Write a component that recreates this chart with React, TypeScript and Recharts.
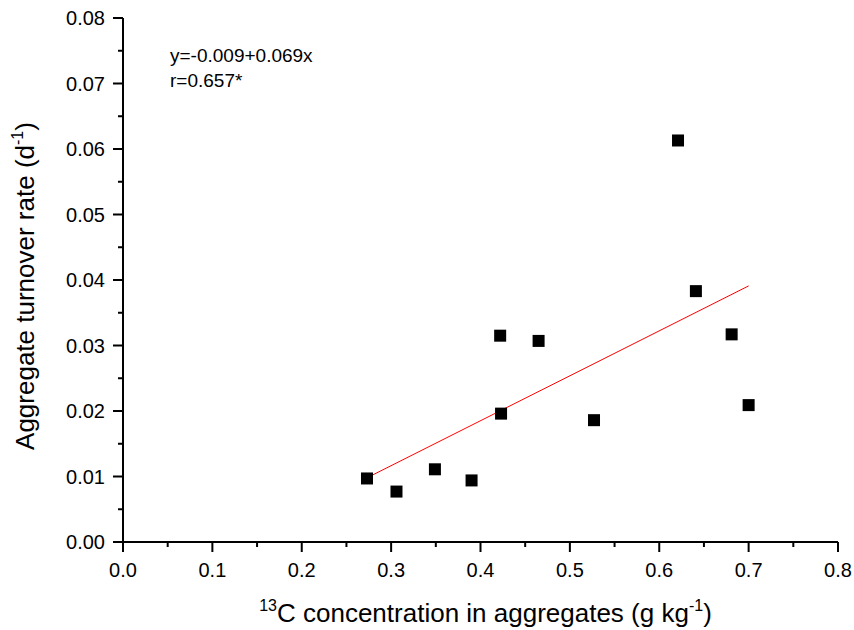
import { ScatterChart, Scatter, XAxis, YAxis, Label, Customized } from 'recharts';

// 13C concentration in aggregates (g kg-1)
const concentration = [0.273, 0.306, 0.349, 0.390, 0.423, 0.422, 0.465, 0.527, 0.621, 0.641, 0.681, 0.700];
// aggregate turnover rate (d-1)
const turnoverRate = [0.0097, 0.0077, 0.0111, 0.0094, 0.0196, 0.0315, 0.0307, 0.0186, 0.0613, 0.0383, 0.0317, 0.0209];

// end points of the fitted line y=-0.009+0.069x
const fitX = [0.273, 0.7];
const fitY = [0.0098, 0.0391];

const xTicks = [0, 0.05, 0.1, 0.15, 0.2, 0.25, 0.3, 0.35, 0.4, 0.45, 0.5, 0.55, 0.6, 0.65, 0.7, 0.75, 0.8];
const yTicks = [0, 0.005, 0.01, 0.015, 0.02, 0.025, 0.03, 0.035, 0.04, 0.045, 0.05, 0.055, 0.06, 0.065, 0.07, 0.075, 0.08];

const equationText = 'y=-0.009+0.069x';
const correlationText = 'r=0.657*';

const FONT = '"Liberation Sans", Arial, sans-serif';

const points = concentration.map((x, i) => ({ x, y: turnoverRate[i] }));
const fitLine = fitX.map((x, i) => ({ x, y: fitY[i] }));

const isMajor = (v: number, step: number) => Math.abs(v / step - Math.round(v / step)) < 1e-6;

const XTick = (props: any) => {
  const { x, y, payload } = props;
  const major = isMajor(payload.value, 0.1);
  return (
    <g>
      <line x1={x} x2={x} y1={y} y2={y + (major ? 10 : 5)} stroke="#000" strokeWidth={2} />
      {major && (
        <text x={x} y={y + 35} textAnchor="middle" fontSize={20} fontFamily={FONT} fill="#000">
          {payload.value.toFixed(1)}
        </text>
      )}
    </g>
  );
};

const YTick = (props: any) => {
  const { x, y, payload } = props;
  const major = isMajor(payload.value, 0.01);
  return (
    <g>
      <line x1={x - (major ? 10 : 5)} x2={x} y1={y} y2={y} stroke="#000" strokeWidth={2} />
      {major && (
        <text x={x - 18} y={y + 7} textAnchor="end" fontSize={20} fontFamily={FONT} fill="#000">
          {payload.value.toFixed(2)}
        </text>
      )}
    </g>
  );
};

const SquareDot = (props: any) => {
  const { cx, cy } = props;
  return <rect x={cx - 6} y={cy - 6} width={12} height={12} fill="#000" />;
};

const NoDot = () => <g />;

const XTitle = (props: any) => {
  const { viewBox } = props;
  const cx = viewBox.x + viewBox.width / 2 + 5;
  return (
    <text x={cx} y={622} textAnchor="middle" fontSize={26} fontFamily={FONT} fill="#000">
      <tspan fontSize={16} dy={-11}>13</tspan>
      <tspan dy={11}>C concentration in aggregates (g kg</tspan>
      <tspan fontSize={16} dy={-11}>-1</tspan>
      <tspan dy={11}>)</tspan>
    </text>
  );
};

const YTitle = (props: any) => {
  const { viewBox } = props;
  const cy = viewBox.y + viewBox.height / 2 + 6;
  return (
    <text
      x={0}
      y={0}
      transform={`translate(34, ${cy}) rotate(-90)`}
      textAnchor="middle"
      fontSize={26}
      fontFamily={FONT}
      fill="#000"
    >
      <tspan>Aggregate turnover rate (d</tspan>
      <tspan fontSize={16} dy={-11}>-1</tspan>
      <tspan dy={11}>)</tspan>
    </text>
  );
};

const Annotation = () => (
  <g fontFamily={FONT} fontSize={19} fill="#000">
    <text x={170} y={62}>{equationText}</text>
    <text x={170} y={87}>{correlationText}</text>
  </g>
);

export default function App() {
  return (
    <div style={{ position: 'absolute', left: 0, top: 0, background: '#fff' }}>
      <ScatterChart width={854} height={630} margin={{ top: 18, right: 16, bottom: 0, left: 0 }}>
        <XAxis
          type="number"
          dataKey="x"
          domain={[0, 0.8]}
          ticks={xTicks}
          interval={0}
          height={88}
          tickSize={0}
          tickMargin={0}
          tickLine={false}
          tick={<XTick />}
          axisLine={{ stroke: '#000', strokeWidth: 2 }}
          allowDataOverflow
        >
          <Label content={<XTitle />} />
        </XAxis>
        <YAxis
          type="number"
          dataKey="y"
          domain={[0, 0.08]}
          ticks={yTicks}
          interval={0}
          width={123}
          tickSize={0}
          tickMargin={0}
          tickLine={false}
          tick={<YTick />}
          axisLine={{ stroke: '#000', strokeWidth: 2 }}
          allowDataOverflow
        >
          <Label content={<YTitle />} />
        </YAxis>
        <Scatter
          data={fitLine}
          line={{ stroke: '#ff0000', strokeWidth: 1 }}
          shape={<NoDot />}
          isAnimationActive={false}
        />
        <Scatter data={points} shape={<SquareDot />} isAnimationActive={false} />
        <Customized component={<Annotation />} />
      </ScatterChart>
    </div>
  );
}
